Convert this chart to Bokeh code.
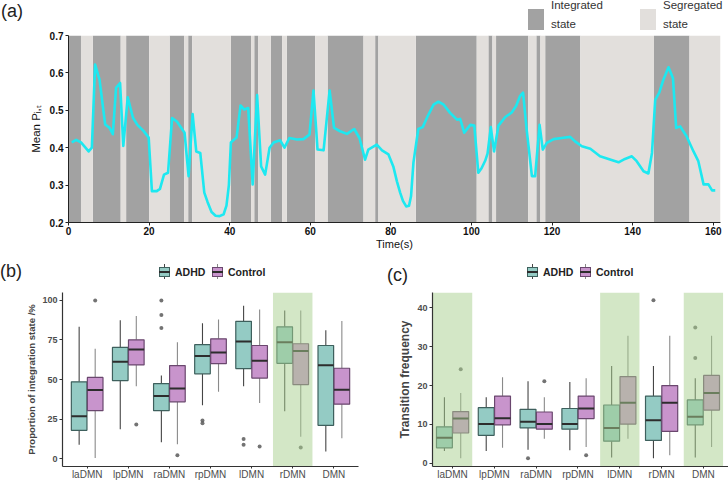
import numpy as np
from bokeh.plotting import figure
from bokeh.models import Range1d, FixedTicker, Div
from bokeh.layouts import column, row
from bokeh.embed import file_html
from bokeh.resources import INLINE

# ---------------- data: panel (a) ----------------
time_s = [0.8, 1.9, 3.1, 5.0, 5.8, 6.6, 7.7, 9.1, 10.2, 11.0,
          11.8, 12.8, 13.6, 14.7, 16.0, 17.1, 18.6, 19.9, 20.7, 21.9,
          22.7, 23.7, 24.7, 25.7, 26.9, 28.8, 29.8, 30.8, 31.7, 32.7,
          33.7, 34.5, 35.5, 36.5, 37.5, 38.5, 39.2, 39.8, 40.3, 40.9,
          41.7, 42.7, 43.6, 44.6, 45.7, 46.8, 47.8, 48.8, 49.9, 50.9,
          52.5, 53.6, 54.8, 56.7, 58.3, 59.8, 60.8, 61.8, 63.3, 64.8,
          65.9, 67.4, 69.1, 70.9, 72.2, 73.6, 74.4, 76.5, 77.8, 79.4,
          80.6, 81.5, 82.3, 83.0, 83.8, 84.5, 85.0, 85.6, 86.8, 87.9,
          89.3, 90.6, 91.8, 93.1, 94.7, 96.4, 97.2, 98.2, 99.7, 100.7,
          101.7, 102.5, 103.4, 104.0, 104.8, 105.6, 106.7, 108.4, 110.0, 111.1,
          112.0, 112.8, 113.7, 115.0, 115.8, 116.9, 117.7, 118.7, 120.4, 122.4,
          124.5, 125.7, 127.4, 129.5, 131.9, 134.0, 136.5, 138.1, 139.8, 141.0,
          142.7, 143.9, 144.8, 145.6, 146.6, 147.6, 148.9, 150.0, 150.8, 151.8,
          153.4, 155.1, 156.3, 157.6, 158.8, 159.7, 160.5]
mean_p = [0.414, 0.421, 0.414, 0.390, 0.400, 0.622, 0.582, 0.462, 0.453, 0.436,
          0.560, 0.573, 0.405, 0.535, 0.480, 0.461, 0.445, 0.427, 0.284, 0.284,
          0.290, 0.328, 0.333, 0.479, 0.470, 0.440, 0.324, 0.490, 0.390, 0.386,
          0.280, 0.255, 0.228, 0.218, 0.217, 0.222, 0.245, 0.300, 0.414, 0.420,
          0.427, 0.513, 0.502, 0.506, 0.302, 0.541, 0.350, 0.328, 0.400, 0.414,
          0.420, 0.400, 0.426, 0.422, 0.423, 0.435, 0.553, 0.395, 0.393, 0.553,
          0.453, 0.444, 0.437, 0.450, 0.426, 0.368, 0.395, 0.408, 0.393, 0.382,
          0.350, 0.310, 0.280, 0.258, 0.243, 0.245, 0.270, 0.360, 0.450, 0.455,
          0.488, 0.515, 0.523, 0.515, 0.493, 0.475, 0.477, 0.440, 0.461, 0.459,
          0.333, 0.345, 0.365, 0.385, 0.455, 0.390, 0.459, 0.482, 0.494, 0.512,
          0.537, 0.547, 0.448, 0.324, 0.324, 0.461, 0.395, 0.413, 0.423, 0.426,
          0.429, 0.417, 0.404, 0.397, 0.377, 0.370, 0.361, 0.370, 0.377, 0.364,
          0.337, 0.331, 0.386, 0.528, 0.547, 0.581, 0.615, 0.586, 0.453, 0.457,
          0.430, 0.390, 0.364, 0.302, 0.302, 0.286, 0.286]

# state segments (edges in seconds) and the state of each segment
state_edges = [0, 3.1, 6.05, 12.95, 14.3, 20.0, 25.1, 28.7, 29.7, 30.7,
               40.3, 45.3, 46.1, 47.1, 50.2, 53.0, 54.2, 61.2, 64.3, 73.2,
               76.1, 76.9, 86.2, 101.3, 104.2, 105.2, 106.1, 114.1, 116.1, 117.1,
               118.3, 127.0, 145.3, 154.1, 161.8]
state_kind = ["I", "S"] * 17
state_names = {"I": "Integrated<br>state", "S": "Segregated<br>state"}

x_ticks_a = [0, 20, 40, 60, 80, 100, 120, 140, 160]
y_ticks_a = [0.2, 0.3, 0.4, 0.5, 0.6, 0.7]

# ---------------- data: panels (b) and (c) ----------------
regions = ["laDMN", "lpDMN", "raDMN", "rpDMN", "lDMN", "rDMN", "DMN"]
groups = ["ADHD", "Control"]

# (b) proportion of integration state (%)
b_adhd_hi  = [83.3, 87.4, 52.6, 85.6, 96.7, 93.6, 81.2]
b_adhd_q3  = [48.5, 70.3, 47.4, 72.0, 86.8, 83.3, 71.5]
b_adhd_med = [26.8, 61.2, 39.6, 64.9, 74.0, 73.6, 59.0]
b_adhd_q1  = [17.9, 49.3, 30.3, 53.6, 56.9, 60.2, 21.0]
b_adhd_lo  = [8.7, 18.6, 10.3, 33.8, 45.8, 29.9, 4.5]
b_adhd_out_region = ["raDMN", "raDMN", "raDMN", "rpDMN", "rpDMN", "lDMN", "lDMN"]
b_adhd_out_value  = [100.0, 90.7, 82.5, 24.1, 22.3, 12.4, 8.7]

b_ctrl_hi  = [69.5, 90.1, 73.6, 88.0, 94.2, 93.6, 87.0]
b_ctrl_q3  = [51.3, 75.1, 58.8, 75.7, 71.5, 72.6, 57.1]
b_ctrl_med = [43.3, 68.9, 44.3, 67.0, 61.9, 68.0, 43.5]
b_ctrl_q1  = [30.3, 59.2, 35.9, 60.0, 50.9, 46.8, 34.4]
b_ctrl_lo  = [0.4, 45.8, 9.1, 42.3, 35.1, 13.8, 12.8]
b_ctrl_out_region = ["laDMN", "lpDMN", "raDMN", "lDMN", "rDMN"]
b_ctrl_out_value  = [100.0, 21.6, 2.1, 7.6, 7.0]
b_highlight = ["rDMN"]
b_y_ticks = [0, 25, 50, 75, 100]

# (c) transition frequency
c_adhd_hi  = [17.0, 17.0, 21.1, 20.9, 25.0, 25.0, 21.9]
c_adhd_q3  = [9.4, 14.3, 13.9, 14.1, 15.0, 17.3, 16.3]
c_adhd_med = [6.6, 10.1, 10.7, 10.1, 9.1, 11.1, 12.0]
c_adhd_q1  = [4.0, 7.2, 9.1, 8.8, 5.7, 5.9, 9.9]
c_adhd_lo  = [3.2, 3.2, 3.5, 3.4, 1.5, 1.3, 1.5]
c_adhd_out_region = ["raDMN", "rDMN", "DMN", "DMN"]
c_adhd_out_value  = [1.3, 41.9, 34.9, 27.1]

c_ctrl_hi  = [18.1, 22.1, 17.0, 21.9, 32.8, 32.8, 32.8]
c_ctrl_q3  = [13.3, 17.3, 13.2, 17.3, 22.3, 20.0, 22.6]
c_ctrl_med = [11.5, 11.6, 10.1, 14.1, 15.6, 15.6, 18.1]
c_ctrl_q1  = [7.8, 9.9, 8.8, 11.5, 10.1, 8.2, 13.7]
c_ctrl_lo  = [1.3, 4.0, 6.3, 4.2, 6.3, 2.1, 4.2]
c_ctrl_out_region = ["laDMN", "raDMN", "rpDMN"]
c_ctrl_out_value  = [24.2, 21.1, 2.1]
c_highlight = ["laDMN", "lDMN", "DMN"]
c_y_ticks = [0, 10, 20, 30, 40]

# ---------------- styles ----------------
FONT = "Liberation Sans"
CSS_FONT = "'Liberation Sans', Arial, sans-serif"
DARK = "#a2a2a2"
LIGHT = "#e2dfdc"
CYAN = "#1de8f0"
ADHD_FILL, ADHD_LINE, ADHD_WHISK = "#94cbc4", "#3e605d", "#454545"
CTRL_FILL, CTRL_LINE, CTRL_WHISK = "#c894cc", "#6a476e", "#8a8a8a"
MED_COLOR = "#2d2d2d"
HL_COLOR = "#a8d08d"


def span(left, top, style, content=""):
    return ('<span style="position:absolute;left:%spx;top:%spx;%s">%s</span>'
            % (left, top, style, content))


def header_div(width, height, parts):
    html = ('<div style="position:relative;width:%dpx;height:%dpx;overflow:hidden;'
            'font-family:%s;color:#222;">%s</div>' % (width, height, CSS_FONT, "".join(parts)))
    return Div(text=html, width=width, height=height, margin=(0, 0, 0, 0))


# ================= panel (a) =================
HA = 31
parts_a = [span(1, 2, "font-size:18px;line-height:18px;white-space:nowrap;", "(a)")]
for kind, box_x, txt_x, col in (("I", 528, 551, DARK), ("S", 640, 663, LIGHT)):
    parts_a.append(span(box_x, 9, "width:16px;height:21px;background:%s;" % col))
    parts_a.append(span(txt_x, -4, "font-size:11.5px;line-height:19px;color:#333;white-space:nowrap;",
                        state_names[kind]))
div_a = header_div(728, HA, parts_a)

pa = figure(width=728, height=221, output_backend="svg", toolbar_location=None,
            x_range=Range1d(0, 161.8), y_range=Range1d(0.2, 0.7),
            min_border_left=68, min_border_right=8,
            min_border_top=4, min_border_bottom=29)
pa.outline_line_color = None
pa.xgrid.visible = False
pa.ygrid.visible = False

lefts = state_edges[:-1]
rights = state_edges[1:]
int_l = [l for l, k in zip(lefts, state_kind) if k == "I"]
int_r = [r for r, k in zip(rights, state_kind) if k == "I"]
seg_l = [l for l, k in zip(lefts, state_kind) if k == "S"]
seg_r = [r for r, k in zip(rights, state_kind) if k == "S"]
pa.quad(left=int_l, right=int_r, bottom=0.2, top=0.7, fill_color=DARK, line_color=None)
pa.quad(left=seg_l, right=seg_r, bottom=0.2, top=0.7, fill_color=LIGHT, line_color=None)
pa.line(time_s, mean_p, line_color=CYAN, line_width=2.6, line_join="round")

for ax in (pa.xaxis[0], pa.yaxis[0]):
    ax.axis_line_color = "#222222"
    ax.major_tick_line_color = "#222222"
    ax.major_tick_out = 3
    ax.major_tick_in = 0
    ax.minor_tick_line_color = None
    ax.major_label_text_font = FONT
    ax.major_label_text_font_style = "bold"
    ax.major_label_text_font_size = "10px"
    ax.major_label_text_color = "#111111"
    ax.major_label_standoff = 2
    ax.axis_label_text_font = FONT
    ax.axis_label_text_font_style = "normal"
    ax.axis_label_text_color = "#111111"
pa.xaxis.ticker = FixedTicker(ticks=x_ticks_a)
pa.yaxis.ticker = FixedTicker(ticks=y_ticks_a)
pa.xaxis.major_label_standoff = 1
pa.xaxis.axis_label = "Time(s)"
pa.xaxis.axis_label_text_font_size = "11px"
pa.xaxis.axis_label_standoff = 0
pa.yaxis.axis_label = "Mean P\u1d62,\u209c"
pa.yaxis.axis_label_text_font_size = "11.5px"
pa.yaxis.axis_label_standoff = 5


# ================= panels (b) and (c) =================
HB = 33
BOT_H = 197


def legend_parts(x0):
    parts = []
    for i, (grp, fill, line, whisk) in enumerate(
            (("ADHD", ADHD_FILL, ADHD_LINE, ADHD_WHISK),
             ("Control", CTRL_FILL, CTRL_LINE, CTRL_WHISK))):
        bx = x0 + i * 53
        parts.append(span(bx + 5, 12, "width:1px;height:15px;background:%s;" % whisk))
        parts.append(span(bx, 14.5, "box-sizing:border-box;width:11px;height:10px;"
                          "background:%s;border:1px solid %s;" % (fill, line)))
        parts.append(span(bx, 18.5, "width:11px;height:2px;background:%s;" % MED_COLOR))
        parts.append(span(bx + 16, 13.5, "font-size:10.5px;line-height:12px;font-weight:bold;"
                          "color:#222;white-space:nowrap;", grp))
    return parts


def box_panel(width, right_border, x_start, y_lo, y_hi, y_ticks, y_title,
              y_title_size, adhd, ctrl, adhd_out, ctrl_out, highlight, hl_half,
              tag, tag_x, tag_y, leg_x):
    div = header_div(width, HB, [span(tag_x, tag_y, "font-size:18px;line-height:18px;"
                                      "white-space:nowrap;", tag)] + legend_parts(leg_x))

    p = figure(width=width, height=BOT_H, output_backend="svg", toolbar_location=None,
               x_range=Range1d(x_start, 7.6), y_range=Range1d(y_lo, y_hi),
               min_border_left=62, min_border_right=right_border,
               min_border_top=7, min_border_bottom=14)
    p.outline_line_color = None
    p.xgrid.visible = False
    p.ygrid.visible = False
    pos = {name: i + 1 for i, name in enumerate(regions)}
    for stats, outs, off, fill, line, whisk in (
            (adhd, adhd_out, -0.195, ADHD_FILL, ADHD_LINE, ADHD_WHISK),
            (ctrl, ctrl_out, 0.195, CTRL_FILL, CTRL_LINE, CTRL_WHISK)):
        hi, q3, med, q1, lo = stats
        xs = [pos[r] + off for r in regions]
        p.segment(x0=xs, y0=q3, x1=xs, y1=hi, line_color=whisk, line_width=1.1)
        p.segment(x0=xs, y0=q1, x1=xs, y1=lo, line_color=whisk, line_width=1.1)
        p.quad(left=[x - 0.19 for x in xs], right=[x + 0.19 for x in xs],
               bottom=q1, top=q3, fill_color=fill, line_color=line, line_width=1.2)
        p.segment(x0=[x - 0.19 for x in xs], y0=med, x1=[x + 0.19 for x in xs], y1=med,
                  line_color=MED_COLOR, line_width=2)
        ox = [pos[r] + off for r in outs[0]]
        p.scatter(ox, outs[1], size=4, fill_color="#5a5a5a", line_color=None, alpha=0.85)
    hx = [pos[r] for r in highlight]
    p.quad(left=[x - hl_half for x in hx], right=[x + hl_half for x in hx],
           bottom=y_lo, top=y_hi, fill_color=HL_COLOR, fill_alpha=0.5, line_color=None)

    for ax in (p.xaxis[0], p.yaxis[0]):
        ax.axis_line_color = "#333333"
        ax.axis_line_width = 1.2
        ax.major_tick_line_color = "#333333"
        ax.major_tick_out = 3
        ax.major_tick_in = 0
        ax.minor_tick_line_color = None
        ax.major_label_text_font = FONT
        ax.major_label_text_color = "#4d4d4d"
        ax.major_label_standoff = 2
    p.xaxis.ticker = FixedTicker(ticks=[pos[r] for r in regions])
    p.xaxis.major_label_overrides = {pos[r]: r for r in regions}
    p.xaxis.major_label_text_font_size = "10px"
    p.xaxis.major_tick_out = 2
    p.xaxis.major_label_standoff = 0
    p.yaxis.ticker = FixedTicker(ticks=y_ticks)
    p.yaxis.major_label_text_font_size = "9px"
    p.yaxis.major_label_text_font_style = "bold"
    p.yaxis.axis_label = y_title
    p.yaxis.axis_label_text_font = FONT
    p.yaxis.axis_label_text_font_style = "bold"
    p.yaxis.axis_label_text_font_size = y_title_size
    p.yaxis.axis_label_standoff = 2
    return column(div, p)


pb = box_panel(370, 12, 0.4, -5, 105, b_y_ticks, "Proportion of integration state /%", "9.5px",
               (b_adhd_hi, b_adhd_q3, b_adhd_med, b_adhd_q1, b_adhd_lo),
               (b_ctrl_hi, b_ctrl_q3, b_ctrl_med, b_ctrl_q1, b_ctrl_lo),
               (b_adhd_out_region, b_adhd_out_value), (b_ctrl_out_region, b_ctrl_out_value),
               b_highlight, 0.48, "(b)", 0, 10, 159)
pc = box_panel(358, 0, 0.52, -0.8, 43.9, c_y_ticks, "Transition frequency", "12px",
               (c_adhd_hi, c_adhd_q3, c_adhd_med, c_adhd_q1, c_adhd_lo),
               (c_ctrl_hi, c_ctrl_q3, c_ctrl_med, c_ctrl_q1, c_ctrl_lo),
               (c_adhd_out_region, c_adhd_out_value), (c_ctrl_out_region, c_ctrl_out_value),
               c_highlight, 0.47, "(c)", 17, 14, 157)

layout = column(div_a, pa, row(pb, pc))
open("out.html", "w").write(file_html(layout, INLINE, "chart"))
